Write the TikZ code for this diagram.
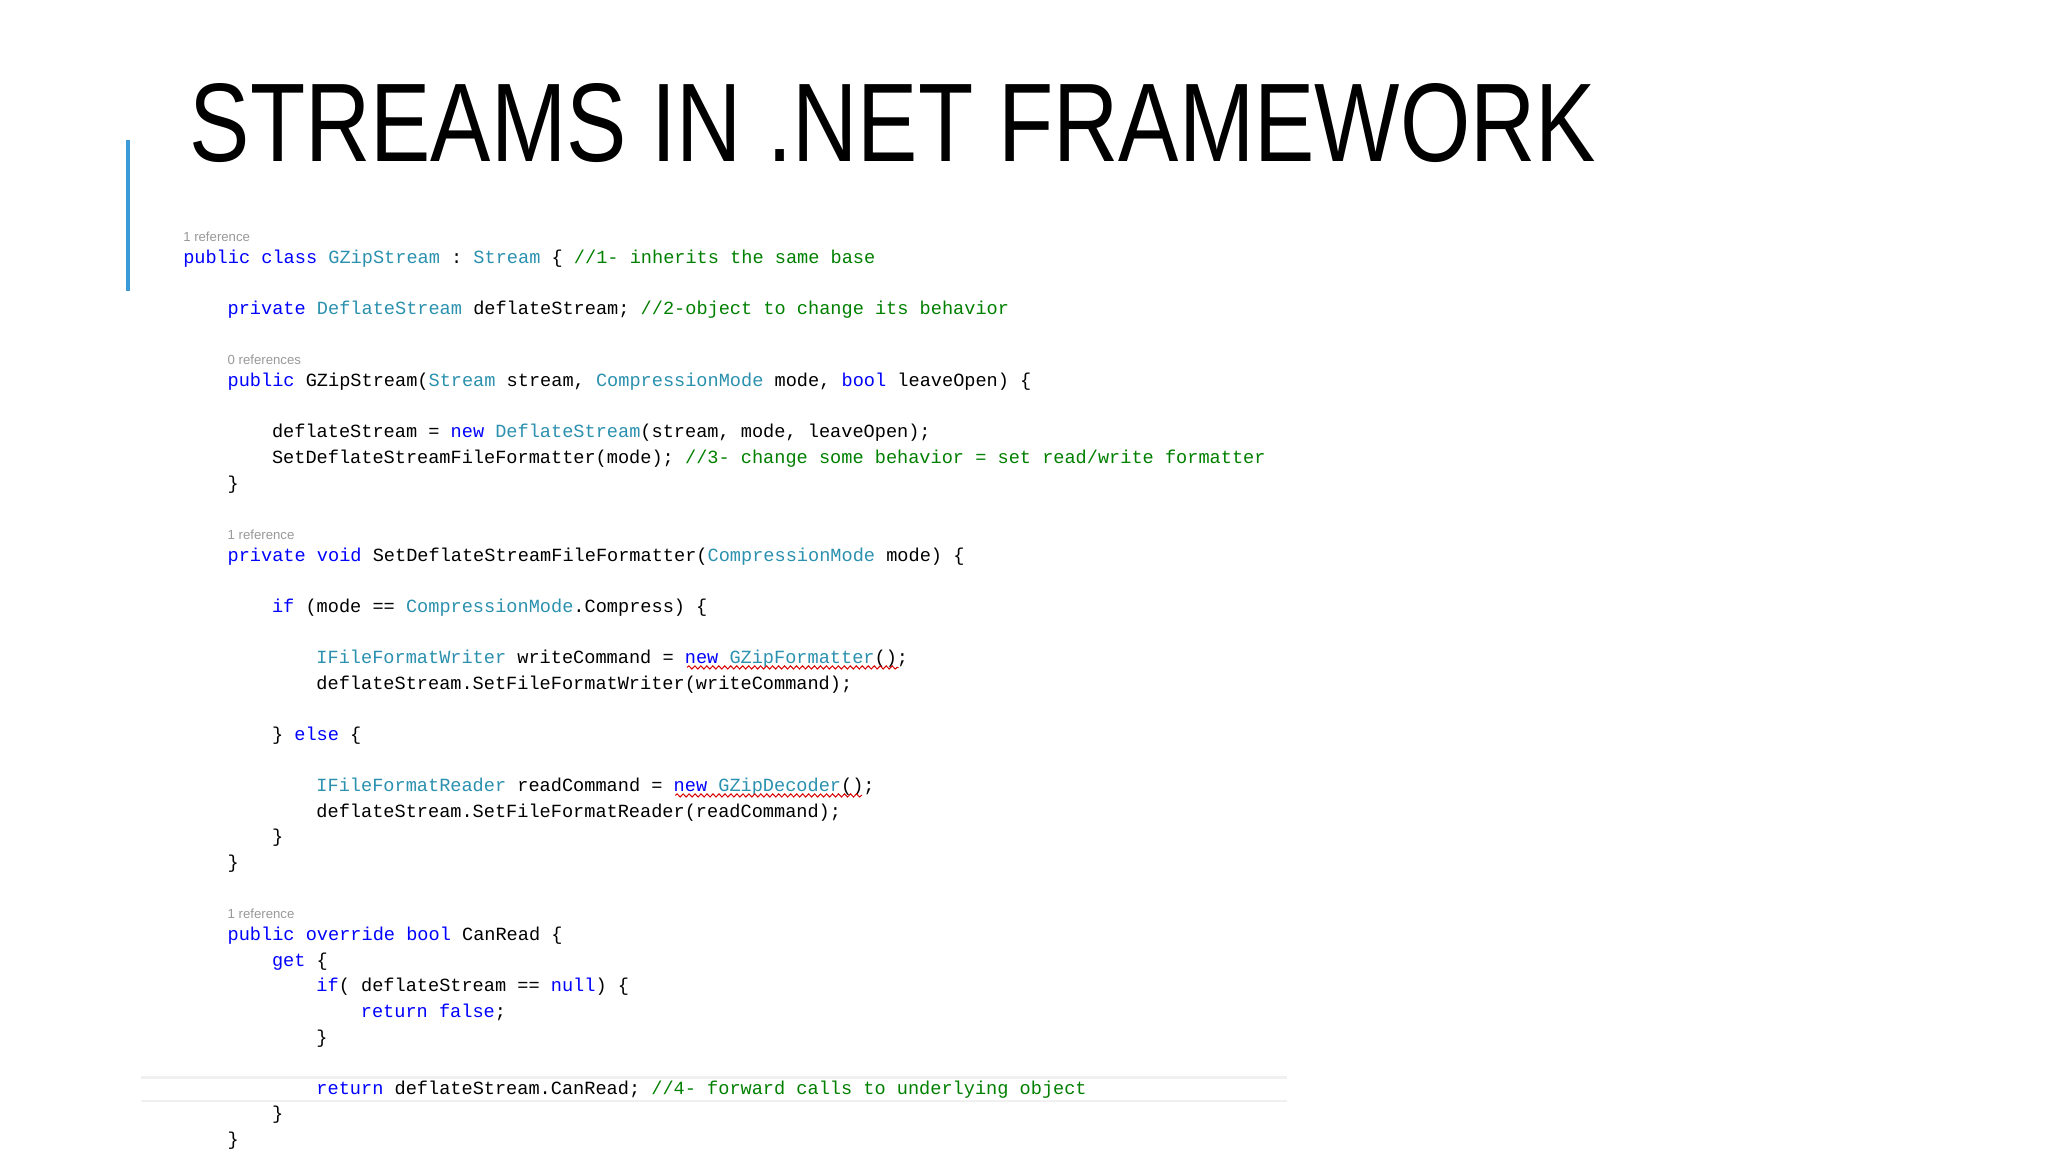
\documentclass[tikz,border=0pt]{standalone}
\usepackage{fontspec}
\setmainfont{Liberation Sans}
\setmonofont{Liberation Mono}
\usetikzlibrary{decorations.pathmorphing}
\definecolor{kw}{HTML}{0000FF}
\definecolor{ty}{HTML}{2B91AF}
\definecolor{cm}{HTML}{008000}
\definecolor{bar}{HTML}{3B9BD6}
\newcommand{\kw}[1]{\textcolor{kw}{#1}}
\newcommand{\ty}[1]{\textcolor{ty}{#1}}
\newcommand{\cm}[1]{\textcolor{cm}{#1}}
\tikzset{
  code/.style={anchor=mid west,inner sep=0pt,font=\fontsize{9.3bp}{11bp}\ttfamily},
  refs/.style={anchor=mid west,inner sep=0pt,text=gray!80,font=\fontsize{6.6bp}{8bp}\selectfont},
  squig/.style={red!85!black,line width=0.5pt,decorate,decoration={snake,amplitude=0.8,segment length=3}}
}
\begin{document}
\begin{tikzpicture}[x=0.653bp,y=-0.653bp]
\useasboundingbox[fill=white] (0,0) rectangle (1568,882);
\node[anchor=south west,inner sep=0pt] (title) at (145,125) {\resizebox{703bp}{39bp}{\fontsize{54bp}{54bp}\selectfont STREAMS IN .NET FRAMEWORK}};
\draw[bar,line width=1.6bp] (98,107) -- (98,223);
\fill[gray!12] (108,824) rectangle (985,826);
\fill[gray!12] (108,842) rectangle (985,844);
\node[refs] (r1) at (140,181) {1 reference};
\node[code] (l1) at (140,198) {\kw{public} \kw{class} \ty{GZipStream} : \ty{Stream} \{ \cm{//1- inherits the same base}};
\node[code] (l2) at (174,237) {\kw{private} \ty{DeflateStream} deflateStream; \cm{//2-object to change its behavior}};
\node[refs] (r2) at (174,275) {0 references};
\node[code] (l3) at (174,292) {\kw{public} GZipStream(\ty{Stream} stream, \ty{CompressionMode} mode, \kw{bool} leaveOpen) \{};
\node[code] (l4) at (208,331) {deflateStream = \kw{new} \ty{DeflateStream}(stream, mode, leaveOpen);};
\node[code] (l5) at (208,351) {SetDeflateStreamFileFormatter(mode); \cm{//3- change some behavior = set read/write formatter}};
\node[code] (l6) at (174,371) {\}};
\node[refs] (r3) at (174,409) {1 reference};
\node[code] (l7) at (174,426) {\kw{private} \kw{void} SetDeflateStreamFileFormatter(\ty{CompressionMode} mode) \{};
\node[code] (l8) at (208,465) {\kw{if} (mode == \ty{CompressionMode}.Compress) \{};
\node[code] (l9) at (242,504) {\ty{IFileFormatWriter} writeCommand = \kw{new} \ty{GZipFormatter}();};
\node[code] (l10) at (242,524) {deflateStream.SetFileFormatWriter(writeCommand);};
\node[code] (l11) at (208,563) {\} \kw{else} \{};
\node[code] (l12) at (242,602) {\ty{IFileFormatReader} readCommand = \kw{new} \ty{GZipDecoder}();};
\node[code] (l13) at (242,622) {deflateStream.SetFileFormatReader(readCommand);};
\node[code] (l14) at (208,641) {\}};
\node[code] (l15) at (174,661) {\}};
\node[refs] (r4) at (174,699) {1 reference};
\node[code] (l16) at (174,716) {\kw{public} \kw{override} \kw{bool} CanRead \{};
\node[code] (l17) at (208,736) {\kw{get} \{};
\node[code] (l18) at (242,755) {\kw{if}( deflateStream == \kw{null}) \{};
\node[code] (l19) at (276,775) {\kw{return} \kw{false};};
\node[code] (l20) at (242,795) {\}};
\node[code] (l21) at (242,834) {\kw{return} deflateStream.CanRead; \cm{//4- forward calls to underlying object}};
\node[code] (l22) at (208,853) {\}};
\node[code] (l23) at (174,873) {\}};
\draw[squig] (526,511) -- (688,511);
\draw[squig] (517,609) -- (660,609);
\end{tikzpicture}
\end{document}
